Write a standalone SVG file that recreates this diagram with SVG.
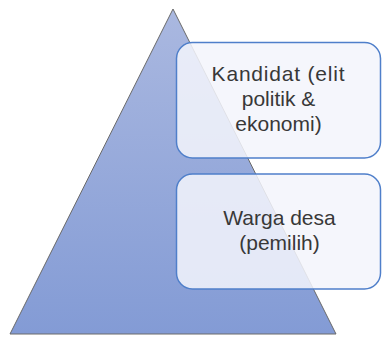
<svg xmlns="http://www.w3.org/2000/svg" width="382" height="337" viewBox="0 0 382 337">
<defs>
<linearGradient id="tri" x1="0" y1="0" x2="0" y2="1">
<stop offset="0" stop-color="#aab8e0"/>
<stop offset="1" stop-color="#839bd5"/>
</linearGradient>
<style>
.box{fill:#f3f5fb;fill-opacity:0.86;stroke:#4f7fca;stroke-width:1.5}
.t{font-family:"Liberation Sans",Arial,sans-serif;font-size:21px;fill:#383838;text-anchor:middle}
</style>
</defs>
<g id="pyramid">
<polygon points="173,9 10,334 336,334" fill="url(#tri)" stroke="#6a6a6a" stroke-width="1"/>
</g>
<g id="kandidat">
<rect class="box" x="176.5" y="42.5" width="204" height="115.5" rx="16"/>
<text class="t" x="278.5" y="81" letter-spacing="0.8">Kandidat (elit</text>
<text class="t" x="278.5" y="106">politik &amp;</text>
<text class="t" x="278.5" y="131">ekonomi)</text>
</g>
<g id="warga">
<rect class="box" x="176.5" y="174" width="204" height="115" rx="16"/>
<text class="t" x="279.5" y="225">Warga desa</text>
<text class="t" x="279.5" y="250">(pemilih)</text>
</g>
<g id="connectors"/>
</svg>
